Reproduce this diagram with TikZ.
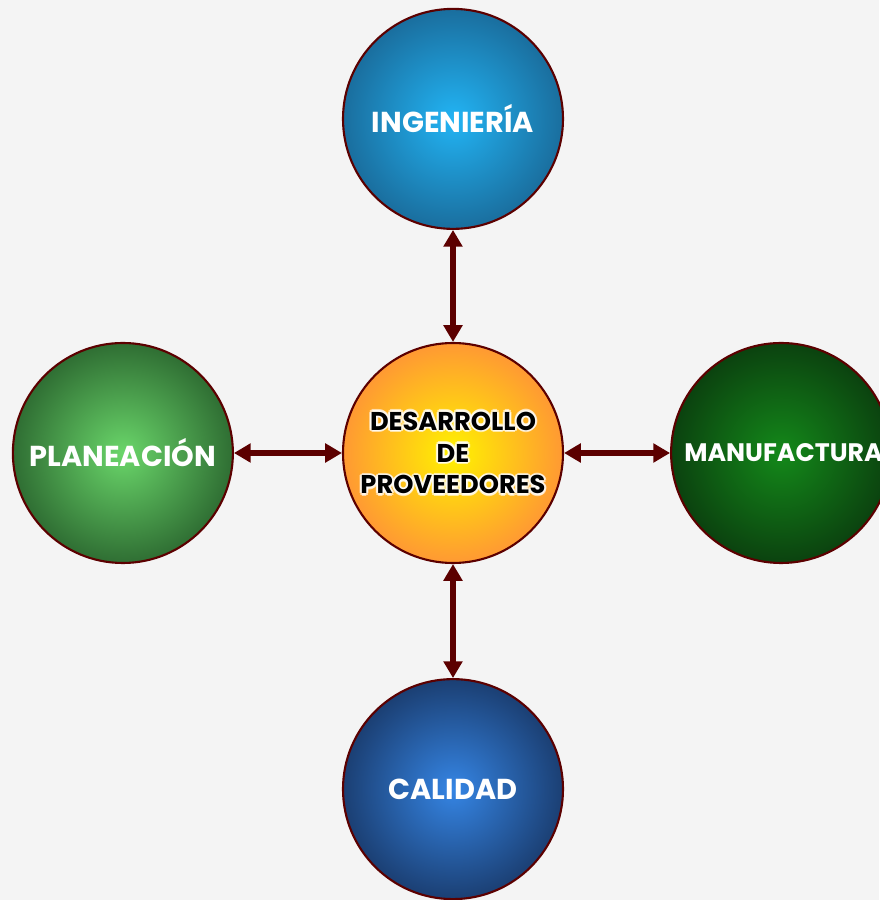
\documentclass[tikz,border=0pt]{standalone}
\usepackage{fontspec}
\setmainfont{Poppins}
\usepackage{tikz}
\usetikzlibrary{arrows.meta, positioning, shapes}
\definecolor{bggray}{HTML}{F4F4F4}
\definecolor{rim}{HTML}{5C0000}
\definecolor{ingin}{HTML}{22B4F4}
\definecolor{ingout}{HTML}{1A6E9E}
\definecolor{plain}{HTML}{6AD66A}
\definecolor{plaout}{HTML}{2F6E33}
\definecolor{manin}{HTML}{14891A}
\definecolor{manout}{HTML}{0B420F}
\definecolor{calin}{HTML}{3585E4}
\definecolor{calout}{HTML}{1B3F73}
\definecolor{dpin}{HTML}{FFF200}
\definecolor{dpout}{HTML}{FF9933}

\begin{document}
\begin{tikzpicture}[
	area/.style={circle, draw=rim, line width=1.5pt, minimum size=5.5cm, inner sep=0pt, shading=radial},
	areatxt/.style={font=\bfseries\fontsize{20.5}{24}\selectfont, text=white},
	hubtxt/.style={font=\bfseries\fontsize{18.3}{22.7}\selectfont, align=center},
	link/.style={rim, line width=4.2pt, {Triangle[length=0.42cm, width=0.46cm]}-{Triangle[length=0.42cm, width=0.46cm]}}
]

% page size 879 x 900 px, 1px = 0.025cm, centre circle at (453,453)
\fill[bggray] (-11.325, -11.175) rectangle (10.65, 11.325);
\useasboundingbox (-11.325, -11.175) rectangle (10.65, 11.325);

\def \dptext{DESARROLLO\\DE\\PROVEEDORES}

\node[area, inner color=dpin, outer color=dpout] (dp) at (0,0) {};
\node[area, inner color=ingin, outer color=ingout, above=2.8cm of dp] (ing) {};
\node[area, inner color=calin, outer color=calout, below=2.85cm of dp] (cal) {};
\node[area, inner color=plain, outer color=plaout, left=2.7cm of dp] (pla) {};
\node[area, inner color=manin, outer color=manout, right=2.65cm of dp] (man) {};

\node[areatxt] (ingtxt) at (ing) {INGENIERÍA};
\node[areatxt] (caltxt) at (cal) {CALIDAD};
\node[areatxt] (platxt) at (pla) {PLANEACIÓN};
\node[areatxt, font=\bfseries\fontsize{18}{22}\selectfont, xshift=0.06cm] (mantxt) at (man) {MANUFACTURA}; % reaches the page edge

% white glow behind the centre text
\foreach \a in {0, 45, ..., 315} {
	\node[hubtxt, text=white, opacity=0.6] (glow\a) at ([shift={(\a:1.6pt)}] dp) {\dptext};
}
\node[hubtxt, text=black] (dptxt) at (dp) {\dptext};

\draw[link] (dp) -- (ing);
\draw[link] (dp) -- (cal);
\draw[link] (dp) -- (pla);
\draw[link] (dp) -- (man);

\end{tikzpicture}
\end{document}
